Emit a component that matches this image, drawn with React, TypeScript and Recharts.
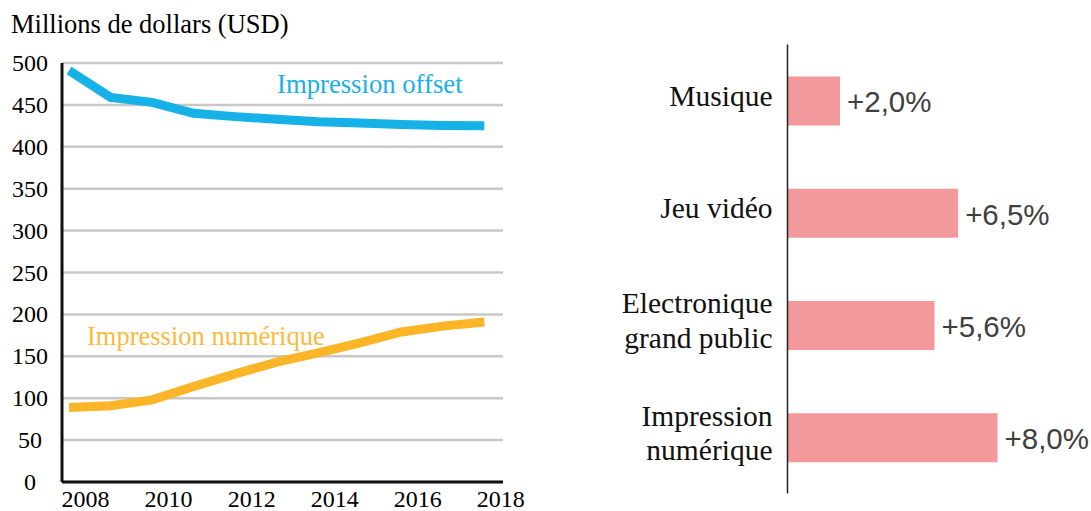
import React from 'react';
import { LineChart, Line, BarChart, Bar, XAxis, YAxis, CartesianGrid, LabelList } from 'recharts';

// colours
const offsetColor = '#16B1E7';
const numeriqueColor = '#FBB527';
const numeriqueText = '#FBBA3C';
const barColor = '#F3989B';
const gridColor = '#C8C8C8';

const serif = '"Liberation Serif", "Times New Roman", serif';
const sans = '"Liberation Sans", Arial, sans-serif';

// left chart: revenue in millions of USD
const years = [2008, 2009, 2010, 2011, 2012, 2013, 2014, 2015, 2016, 2017, 2018];
const offsetValues = [491, 459, 453, 440, 436, 433, 430, 428.5, 426.5, 425.5, 425];
const numeriqueValues = [89, 91, 98, 114, 129, 143, 154, 166, 179, 186, 191];
const yearTicks = [2008, 2010, 2012, 2014, 2016, 2018];
const valueTicks = [0, 50, 100, 150, 200, 250, 300, 350, 400, 450, 500];

// right chart: growth rates
const categories = ['Musique', 'Jeu vidéo', 'Electronique\ngrand public', 'Impression\nnumérique'];
const growthRates = [2.0, 6.5, 5.6, 8.0];

const lineData = years.map((year, i) => ({ year, offset: offsetValues[i], numerique: numeriqueValues[i] }));
const barData = categories.map((name, i) => ({ name, value: growthRates[i] }));

const YearTick = (props: any) => (
  <text x={props.x + 16.5} y={props.y + 17} textAnchor="middle" dominantBaseline="central"
    fontFamily={serif} fontSize={24} fill="#000">
    {props.payload.value}
  </text>
);

const ValueTick = (props: any) => (
  <text x={props.x - 32} y={props.y} textAnchor="middle" dominantBaseline="central"
    fontFamily={serif} fontSize={24} fill="#000">
    {props.payload.value}
  </text>
);

const CategoryTick = (props: any) => {
  const lines = String(props.payload.value).split('\n');
  return (
    <text textAnchor="end" fontFamily={serif} fontSize={29.5} fill="#111">
      {lines.map((l, i) => (
        <tspan key={i} x={props.x - 15} y={props.y + 5.5 + (i - (lines.length - 1) / 2) * 34.5}>{l}</tspan>
      ))}
    </text>
  );
};

const fmtRate = (v: any) => `+${Number(v).toFixed(1).replace('.', ',')}%`;

export default function App() {
  return (
    <div style={{ position: 'absolute', left: 0, top: 0, width: 1091, height: 511, background: '#fff' }}>
      <div style={{ position: 'absolute', left: 0, top: 0 }}>
        <LineChart width={540} height={511} data={lineData} margin={{ top: 63, right: 37, bottom: 0, left: 0 }}>
          <CartesianGrid horizontal vertical={false} stroke={gridColor} strokeWidth={2.5} />
          <XAxis dataKey="year" type="number" domain={[2007.83, 2018.45]} ticks={yearTicks}
            height={29} tickSize={0} tickMargin={0} tickLine={false} tick={<YearTick />}
            axisLine={{ stroke: '#111', strokeWidth: 3 }} />
          <YAxis type="number" domain={[0, 500]} ticks={valueTicks} width={62}
            tickSize={0} tickMargin={0} tickLine={false} tick={<ValueTick />}
            axisLine={{ stroke: '#111', strokeWidth: 3 }} />
          <Line type="linear" dataKey="offset" stroke={offsetColor} strokeWidth={9} dot={false} isAnimationActive={false} />
          <Line type="linear" dataKey="numerique" stroke={numeriqueColor} strokeWidth={9} dot={false} isAnimationActive={false} />
        </LineChart>
      </div>
      <div style={{ position: 'absolute', left: 560, top: 0 }}>
        <BarChart width={531} height={511} data={barData} layout="vertical"
          margin={{ top: 44.5, right: 41, bottom: 17.5, left: 0 }}>
          <XAxis type="number" domain={[0, 10]} hide />
          <YAxis type="category" dataKey="name" width={227.5} tickSize={0} tickMargin={0} tickLine={false}
            tick={<CategoryTick />} axisLine={{ stroke: '#222', strokeWidth: 1.5 }} />
          <Bar dataKey="value" fill={barColor} barSize={49} isAnimationActive={false}>
            <LabelList dataKey="value" position="right" offset={7} formatter={fmtRate}
              fill="#404040" fontSize={29.5} fontFamily={sans} dy={1} />
          </Bar>
        </BarChart>
      </div>
      <svg width={1091} height={511} style={{ position: 'absolute', left: 0, top: 0, pointerEvents: 'none' }}>
        <text x={11} y={33} fontFamily={serif} fontSize={26.5} fill="#000">Millions de dollars (USD)</text>
        <text x={277} y={93} fontFamily={serif} fontSize={26.7} fill={offsetColor}>Impression offset</text>
        <text x={87} y={344.5} fontFamily={serif} fontSize={26.5} fill={numeriqueText}>Impression numérique</text>
      </svg>
    </div>
  );
}
